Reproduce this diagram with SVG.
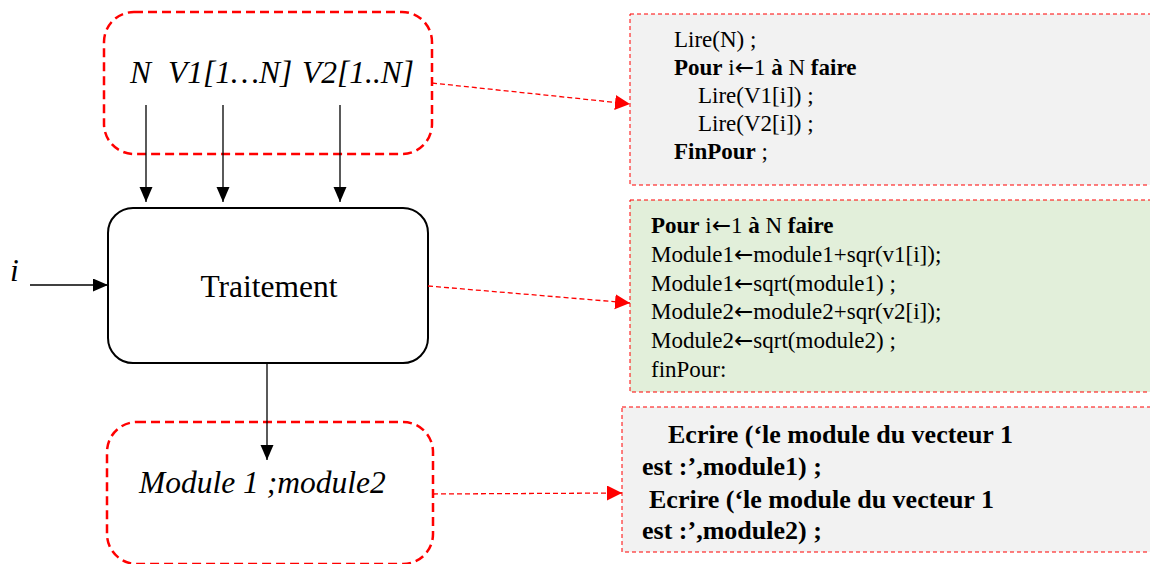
<svg xmlns="http://www.w3.org/2000/svg" width="1150" height="564" viewBox="0 0 1150 564">
<style>
.dbox{fill:none;stroke:#ff0000;stroke-width:2.5;stroke-dasharray:9 5}
.pbox{fill:#ffffff;stroke:#000;stroke-width:2}
.cbox{stroke:#ff0000;stroke-width:1;stroke-dasharray:4 3}
text{font-family:'Liberation Serif','Times New Roman',Times,'DejaVu Serif',serif;fill:#000}
.it{font-style:italic;font-size:31.5px}
.rg{font-size:31.5px}
.code{font-size:23px}
.b{font-weight:bold}
.ar{font-family:'DejaVu Sans',sans-serif;font-weight:normal}
.code3{font-size:26px;font-weight:bold}
.ln{stroke:#000;stroke-width:1.3;fill:none}
.rl{stroke:#ff0000;stroke-width:1.3;stroke-dasharray:5 3;fill:none}
</style>
<defs>
<marker id="ah" markerUnits="userSpaceOnUse" markerWidth="16" markerHeight="14" refX="15" refY="6.5" orient="auto">
<path d="M0,0 L15,6.5 L0,13 Z" fill="#000"/>
</marker>
<marker id="rh" markerUnits="userSpaceOnUse" markerWidth="16" markerHeight="16" refX="15" refY="7.5" orient="auto">
<path d="M0,0 L15,7.5 L0,15 Z" fill="#ff0000"/>
</marker>
</defs>
<g id="code1">
<rect x="630" y="14" width="530" height="171" fill="#f2f2f2" class="cbox"/>
<text class="code" x="674" y="47">Lire(N) ;</text>
<text class="code" x="674" y="75"><tspan class="b">Pour</tspan> i<tspan class="ar">←</tspan>1 <tspan class="b">à</tspan> N <tspan class="b">faire</tspan></text>
<text class="code" x="698" y="103">Lire(V1[i]) ;</text>
<text class="code" x="698" y="131">Lire(V2[i]) ;</text>
<text class="code" x="674" y="159"><tspan class="b">FinPour</tspan> ;</text>
</g>
<g id="code2">
<rect x="630" y="200" width="530" height="192" fill="#e2efda" class="cbox"/>
<text class="code" x="651" y="233"><tspan class="b">Pour</tspan> i<tspan class="ar">←</tspan>1 <tspan class="b">à</tspan> N <tspan class="b">faire</tspan></text>
<text class="code" x="651" y="262">Module1<tspan class="ar">←</tspan>module1+sqr(v1[i]);</text>
<text class="code" x="651" y="291">Module1<tspan class="ar">←</tspan>sqrt(module1) ;</text>
<text class="code" x="651" y="319">Module2<tspan class="ar">←</tspan>module2+sqr(v2[i]);</text>
<text class="code" x="651" y="348">Module2<tspan class="ar">←</tspan>sqrt(module2) ;</text>
<text class="code" x="651" y="377">finPour:</text>
</g>
<g id="code3">
<rect x="622" y="407" width="540" height="145" fill="#f2f2f2" class="cbox"/>
<text class="code3" x="668" y="443">Ecrire (‘le module du vecteur 1</text>
<text class="code3" x="642" y="475">est :’,module1) ;</text>
<text class="code3" x="649" y="508">Ecrire (‘le module du vecteur 1</text>
<text class="code3" x="642" y="539">est :’,module2) ;</text>
</g>
<g id="inputs">
<rect x="104" y="12" width="328" height="142" rx="30" class="dbox"/>
<text class="it" x="130" y="83">N</text>
<text class="it" x="168" y="83">V1[1…N]</text>
<text class="it" x="302" y="83">V2[1..N]</text>
</g>
<g id="traitement">
<rect x="108" y="208" width="320" height="155" rx="25" class="pbox"/>
<text class="rg" x="269" y="297" text-anchor="middle">Traitement</text>
</g>
<g id="input-i">
<text class="it" x="10" y="281">i</text>
</g>
<g id="outputs">
<rect x="107" y="422" width="326" height="142" rx="30" class="dbox"/>
<text class="it" x="139" y="493">Module 1 ;module2</text>
</g>
<g id="connectors">
<line x1="146" y1="105" x2="146" y2="202" class="ln" marker-end="url(#ah)"/>
<line x1="223" y1="105" x2="223" y2="202" class="ln" marker-end="url(#ah)"/>
<line x1="340" y1="105" x2="340" y2="202" class="ln" marker-end="url(#ah)"/>
<line x1="30" y1="285" x2="108" y2="285" class="ln" marker-end="url(#ah)"/>
<line x1="267" y1="363" x2="267" y2="460" class="ln" marker-end="url(#ah)"/>
<line x1="432" y1="83" x2="630" y2="104" class="rl" marker-end="url(#rh)"/>
<line x1="428" y1="286" x2="630" y2="303" class="rl" marker-end="url(#rh)"/>
<line x1="433" y1="494" x2="622" y2="493" class="rl" marker-end="url(#rh)"/>
</g>
</svg>
